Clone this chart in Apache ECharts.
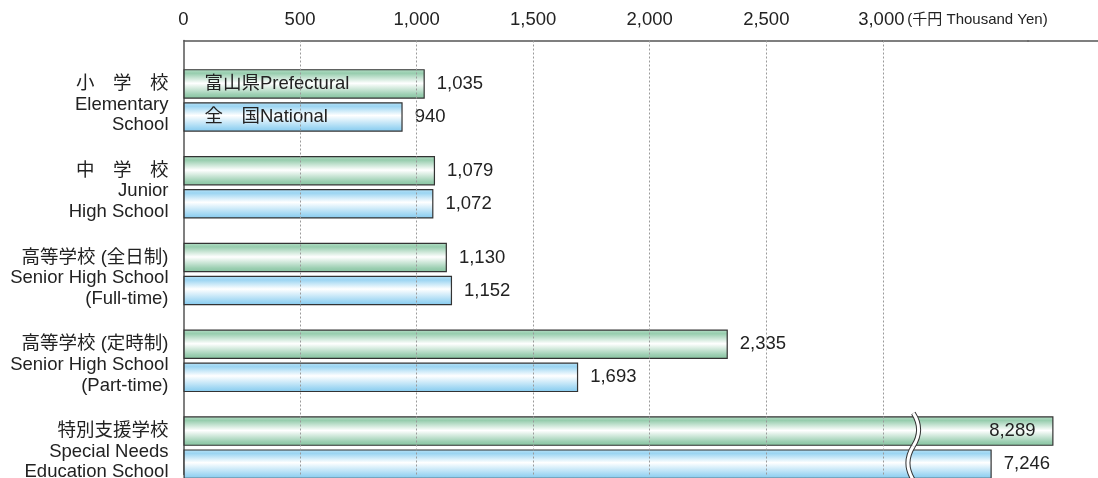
<!DOCTYPE html>
<html>
<head>
<meta charset="utf-8">
<script src="https://cdn.jsdelivr.net/npm/echarts@6/dist/echarts.min.js"></script>
<style>
  html, body { margin: 0; padding: 0; background: #fff; }
  #chart { width: 1098px; height: 478px; }
</style>
</head>
<body>
<div id="chart"></div>
<script>
// ---- data ----
const categories = [
  '小　学　校\nElementary\nSchool',
  '中　学　校\nJunior\nHigh School',
  '高等学校 (全日制)\nSenior High School\n(Full-time)',
  '高等学校 (定時制)\nSenior High School\n(Part-time)',
  '特別支援学校\nSpecial Needs\nEducation School'
];
const seriesNames = ['富山県Prefectural', '全　国National'];
const prefValues = [1035, 1079, 1130, 2335, 8289];
const natValues = [940, 1072, 1152, 1693, 7246];
const gridValues = [500, 1000, 1500, 2000, 2500, 3000];
const axisMax = 8480;
const lastTick = 3000;
const unitText = '(千円 Thousand Yen)';
// axis breaks: [start, end] in value units (zero-width gaps)
const axisBreaks = [[3000, 6779], [7400, 8178]];
const insideLabelIndex = 4; // Prefectural special-needs value sits inside its bar

const FONT = "'Liberation Sans', Arial, 'Noto Sans CJK JP', sans-serif";
const FS = 18.5;
const fmt = v => Number(v).toLocaleString('en-US');

const greenFill = new echarts.graphic.LinearGradient(0, 0, 0, 1, [
  { offset: 0, color: '#b4dec6' },
  { offset: 0.14, color: '#97cdae' },
  { offset: 0.48, color: '#ffffff' },
  { offset: 0.86, color: '#9ccfb2' },
  { offset: 1, color: '#86c39f' }
]);
const blueFill = new echarts.graphic.LinearGradient(0, 0, 0, 1, [
  { offset: 0, color: '#b6e1f6' },
  { offset: 0.14, color: '#9cd5f2' },
  { offset: 0.45, color: '#ffffff' },
  { offset: 0.86, color: '#a0d7f3' },
  { offset: 1, color: '#84c9ee' }
]);

const valueLabel = {
  show: true,
  position: 'right',
  distance: 12,
  fontSize: FS,
  color: '#222',
  fontFamily: FONT,
  formatter: p => fmt(p.value)
};

const chart = echarts.init(document.getElementById('chart'), null, { renderer: 'canvas' });

const option = {
  animation: false,
  textStyle: { fontFamily: FONT },
  grid: { left: 183.5, right: 0, top: 40.5, bottom: 3.5, containLabel: false, outerBoundsMode: 'none' },
  legend: {
    data: seriesNames,
    orient: 'vertical',
    left: 199.5,
    top: 73.8,
    padding: 0,
    itemWidth: 0,
    itemHeight: 20,
    itemGap: 13,
    icon: 'rect',
    itemStyle: { opacity: 0, borderWidth: 0 },
    selectedMode: false,
    textStyle: { fontSize: FS, color: '#222', fontFamily: FONT, lineHeight: 20 }
  },
  xAxis: {
    type: 'value',
    position: 'top',
    min: 0,
    max: axisMax,
    interval: 500,
    breaks: axisBreaks.map(b => ({ start: b[0], end: b[1], gap: 0 })),
    breakArea: { show: false },
    breakLabelLayout: { moveOverlap: false },
    axisLine: { show: true, lineStyle: { color: '#555', width: 1.5 } },
    axisTick: { show: false },
    splitLine: { show: false },
    axisLabel: {
      margin: 11,
      fontSize: FS,
      color: '#222',
      fontFamily: FONT,
      hideOverlap: false,
      formatter: function (v) {
        v = Number(v);
        if (v > lastTick) return '';
        if (v === lastTick) return '{pad|}{v|' + fmt(v) + '}{u|' + unitText + '}';
        return fmt(v);
      },
      rich: {
        pad: { width: 140 },
        v: { fontSize: FS, color: '#222', fontFamily: FONT },
        u: { width: 140, align: 'left', fontSize: 15, color: '#222', padding: [0, 0, 0, 3],
             fontFamily: "'Liberation Sans Narrow', 'Liberation Sans', 'Noto Sans CJK JP', sans-serif" }
      }
    }
  },
  yAxis: {
    type: 'category',
    inverse: true,
    data: categories,
    axisLine: { show: true, lineStyle: { color: '#555', width: 1.5 } },
    axisTick: { show: false },
    axisLabel: {
      margin: 15,
      fontSize: FS,
      lineHeight: 20.6,
      color: '#222',
      align: 'right',
      hideOverlap: false,
      interval: 0,
      fontFamily: FONT,
      // two leading blank lines push the 3-line block down to the bar pair's centre
      formatter: v => '\n\n' + v
    }
  },
  series: [
    {
      type: 'bar',
      name: 'grid',
      z: 1,
      barWidth: 29.5,
      barGap: '12%',
      data: categories.map(() => null),
      markLine: {
        silent: true,
        symbol: 'none',
        label: { show: false },
        lineStyle: { color: '#9a9a9a', type: [2, 2], width: 1 },
        data: gridValues.map(v => ({ xAxis: v }))
      }
    },
    {
      type: 'bar',
      name: seriesNames[0],
      z: 2,
      barWidth: 29.5,
      barGap: '12%',
      itemStyle: { color: greenFill, borderColor: '#333', borderWidth: 1.2 },
      label: valueLabel,
      data: prefValues.map((v, i) => i === insideLabelIndex
        ? { value: v, label: { position: 'insideRight', distance: 18 } }
        : v)
    },
    {
      type: 'bar',
      name: seriesNames[1],
      z: 2,
      barWidth: 29.5,
      barGap: '12%',
      clip: false,
      itemStyle: { color: blueFill, borderColor: '#333', borderWidth: 1.2 },
      label: valueLabel,
      data: natValues
    }
  ]
};

chart.setOption(option);

// break mark (wavy double line) across the special-needs bars, just right of the first break
const bx = chart.convertToPixel({ xAxisIndex: 0 }, axisBreaks[0][0]) + 30.5;
const cy = chart.convertToPixel({ yAxisIndex: 0 }, categories[insideLabelIndex]);
const y0 = cy - 18;
const segs = [
  { x1: bx, y1: y0, cpx1: bx + 7, cpy1: y0 + 11, cpx2: bx + 7, cpy2: y0 + 22, x2: bx, y2: y0 + 33 },
  { x1: bx, y1: y0 + 33, cpx1: bx - 7, cpy1: y0 + 44, cpx2: bx - 7, cpy2: y0 + 56, x2: bx, y2: y0 + 67 }
];
const waveEls = [];
segs.forEach(s => waveEls.push({ type: 'bezierCurve', z: 50, shape: s, silent: true,
  style: { fill: null, stroke: '#333', lineWidth: 5 } }));
segs.forEach(s => waveEls.push({ type: 'bezierCurve', z: 51, shape: s, silent: true,
  style: { fill: null, stroke: '#fff', lineWidth: 3 } }));
chart.setOption({ graphic: waveEls });
</script>
</body>
</html>
